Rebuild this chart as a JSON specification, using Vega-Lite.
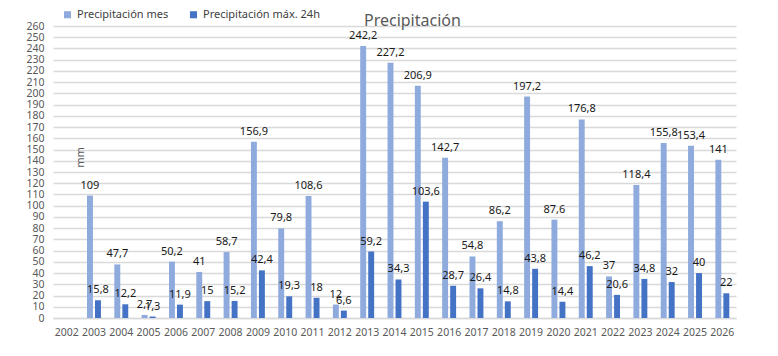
{
  "$schema": "https://vega.github.io/schema/vega-lite/v6.json",
  "autosize": "none",
  "width": 683,
  "height": 292,
  "padding": {"left": 53, "top": 26, "right": 42, "bottom": 38},
  "background": "white",
  "config": {
    "font": "Noto Sans",
    "view": {"stroke": null},
    "locale": {"number": {"decimal": ",", "thousands": ".", "grouping": [3], "currency": ["", " €"]}}
  },
  "title": {
    "text": "Precipitación",
    "anchor": "start",
    "dx": 338,
    "offset": -20,
    "fontSize": 16,
    "fontWeight": "normal",
    "color": "#595959",
    "font": "Noto Sans"
  },
  "data": {
    "values": [
      {"year": "2003", "series": "Precipitación mes", "value": 109},
      {"year": "2003", "series": "Precipitación máx. 24h", "value": 15.8},
      {"year": "2004", "series": "Precipitación mes", "value": 47.7},
      {"year": "2004", "series": "Precipitación máx. 24h", "value": 12.2},
      {"year": "2005", "series": "Precipitación mes", "value": 2.7},
      {"year": "2005", "series": "Precipitación máx. 24h", "value": 1.3},
      {"year": "2006", "series": "Precipitación mes", "value": 50.2},
      {"year": "2006", "series": "Precipitación máx. 24h", "value": 11.9},
      {"year": "2007", "series": "Precipitación mes", "value": 41},
      {"year": "2007", "series": "Precipitación máx. 24h", "value": 15},
      {"year": "2008", "series": "Precipitación mes", "value": 58.7},
      {"year": "2008", "series": "Precipitación máx. 24h", "value": 15.2},
      {"year": "2009", "series": "Precipitación mes", "value": 156.9},
      {"year": "2009", "series": "Precipitación máx. 24h", "value": 42.4},
      {"year": "2010", "series": "Precipitación mes", "value": 79.8},
      {"year": "2010", "series": "Precipitación máx. 24h", "value": 19.3},
      {"year": "2011", "series": "Precipitación mes", "value": 108.6},
      {"year": "2011", "series": "Precipitación máx. 24h", "value": 18},
      {"year": "2012", "series": "Precipitación mes", "value": 12},
      {"year": "2012", "series": "Precipitación máx. 24h", "value": 6.6},
      {"year": "2013", "series": "Precipitación mes", "value": 242.2},
      {"year": "2013", "series": "Precipitación máx. 24h", "value": 59.2},
      {"year": "2014", "series": "Precipitación mes", "value": 227.2},
      {"year": "2014", "series": "Precipitación máx. 24h", "value": 34.3},
      {"year": "2015", "series": "Precipitación mes", "value": 206.9},
      {"year": "2015", "series": "Precipitación máx. 24h", "value": 103.6},
      {"year": "2016", "series": "Precipitación mes", "value": 142.7},
      {"year": "2016", "series": "Precipitación máx. 24h", "value": 28.7},
      {"year": "2017", "series": "Precipitación mes", "value": 54.8},
      {"year": "2017", "series": "Precipitación máx. 24h", "value": 26.4},
      {"year": "2018", "series": "Precipitación mes", "value": 86.2},
      {"year": "2018", "series": "Precipitación máx. 24h", "value": 14.8},
      {"year": "2019", "series": "Precipitación mes", "value": 197.2},
      {"year": "2019", "series": "Precipitación máx. 24h", "value": 43.8},
      {"year": "2020", "series": "Precipitación mes", "value": 87.6},
      {"year": "2020", "series": "Precipitación máx. 24h", "value": 14.4},
      {"year": "2021", "series": "Precipitación mes", "value": 176.8},
      {"year": "2021", "series": "Precipitación máx. 24h", "value": 46.2},
      {"year": "2022", "series": "Precipitación mes", "value": 37},
      {"year": "2022", "series": "Precipitación máx. 24h", "value": 20.6},
      {"year": "2023", "series": "Precipitación mes", "value": 118.4},
      {"year": "2023", "series": "Precipitación máx. 24h", "value": 34.8},
      {"year": "2024", "series": "Precipitación mes", "value": 155.8},
      {"year": "2024", "series": "Precipitación máx. 24h", "value": 32},
      {"year": "2025", "series": "Precipitación mes", "value": 153.4},
      {"year": "2025", "series": "Precipitación máx. 24h", "value": 40},
      {"year": "2026", "series": "Precipitación mes", "value": 141},
      {"year": "2026", "series": "Precipitación máx. 24h", "value": 22}
    ]
  },
  "encoding": {
    "x": {
      "field": "year",
      "type": "ordinal",
      "scale": {
        "domain": ["2002","2003","2004","2005","2006","2007","2008","2009","2010","2011","2012","2013","2014","2015","2016","2017","2018","2019","2020","2021","2022","2023","2024","2025","2026"],
        "paddingInner": 0.49,
        "paddingOuter": 0.245
      },
      "axis": {
        "title": null,
        "labelAngle": 0,
        "labelFontSize": 10.5,
        "labelColor": "#595959",
        "labelPadding": 9,
        "ticks": false,
        "domainColor": "#d9d9d9",
        "domainWidth": 1.5
      }
    },
    "xOffset": {
      "field": "series",
      "type": "nominal",
      "sort": ["Precipitación mes", "Precipitación máx. 24h"],
      "scale": {"paddingInner": 0.26, "paddingOuter": 0}
    },
    "y": {
      "field": "value",
      "type": "quantitative",
      "scale": {"domain": [0, 260], "nice": false},
      "axis": {
        "title": "mm",
        "titleX": 27,
        "titleY": 131,
        "titleAlign": "center",
        "titleBaseline": "middle",
        "titleFontSize": 11,
        "titleFontWeight": "normal",
        "titleColor": "#595959",
        "values": [0,10,20,30,40,50,60,70,80,90,100,110,120,130,140,150,160,170,180,190,200,210,220,230,240,250,260],
        "labelFontSize": 10.5,
        "labelColor": "#595959",
        "labelPadding": 9,
        "ticks": false,
        "domain": false,
        "gridColor": "#d9d9d9",
        "gridWidth": 1.5
      }
    }
  },
  "layer": [
    {
      "mark": {"type": "bar"},
      "encoding": {
        "color": {
          "field": "series",
          "type": "nominal",
          "sort": ["Precipitación mes", "Precipitación máx. 24h"],
          "scale": {"domain": ["Precipitación mes", "Precipitación máx. 24h"], "range": ["#8FAADC", "#4472C4"]},
          "legend": {
            "title": null,
            "orient": "none",
            "legendX": 9,
            "legendY": -17,
            "direction": "horizontal",
            "symbolType": "square",
            "symbolSize": 50,
            "symbolStrokeWidth": 0,
            "labelFontSize": 11,
            "labelColor": "#404040",
            "labelOffset": 4,
            "columnPadding": 19
          }
        }
      }
    },
    {
      "mark": {"type": "text", "baseline": "bottom", "dy": -5, "fontSize": 11, "color": "#1a1a1a"},
      "encoding": {
        "text": {"field": "value", "type": "quantitative", "format": "~f"}
      }
    }
  ]
}
